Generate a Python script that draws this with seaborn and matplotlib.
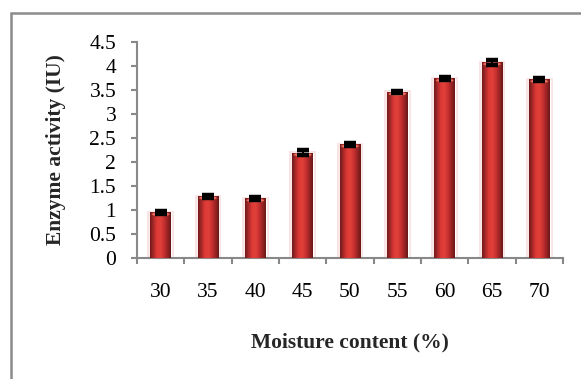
import numpy as np
import pandas as pd
import matplotlib
matplotlib.use("Agg")
import matplotlib.pyplot as plt
from matplotlib.colors import LinearSegmentedColormap
from matplotlib.patches import Rectangle, Ellipse
import seaborn as sns

# Enzyme activity at each moisture level
moisture = ["30", "35", "40", "45", "50", "55", "60", "65", "70"]
activity = [0.95, 1.29, 1.24, 2.19, 2.37, 3.46, 3.74, 4.08, 3.72]
errors = [0.03, 0.03, 0.03, 0.05, 0.03, 0.02, 0.04, 0.05, 0.03]
y_ticks = [0, 0.5, 1, 1.5, 2, 2.5, 3, 3.5, 4, 4.5]
y_tick_labels = ["0", "0.5", "1", "1.5", "2", "2.5", "3", "3.5", "4", "4.5"]

df = pd.DataFrame({"moisture": moisture, "activity": activity})

sns.set_theme(style="white")
plt.rcParams["font.family"] = ["Liberation Serif", "DejaVu Serif"]

W, H, DPI = 581, 379, 100
fig = plt.figure(figsize=(W / DPI, H / DPI), dpi=DPI)
ax = fig.add_axes([137 / W, 1 - 258 / H, 426 / W, 216 / H])

BAR_W = 0.44
sns.barplot(data=df, x="moisture", y="activity", color="#c0302e",
            width=BAR_W, errorbar=None, ax=ax, zorder=2)

# cylinder-like shading for each bar
shade = LinearSegmentedColormap.from_list(
    "cyl", ["#6e1b1b", "#a82828", "#df3a38", "#e04038", "#c83030", "#9a2424", "#661818"])
grad = np.linspace(0, 1, 256).reshape(1, -1)
for patch in ax.patches:
    x0, y0 = patch.get_x(), patch.get_y()
    w, h = patch.get_width(), patch.get_height()
    # soft pink halo around the bar
    ax.add_patch(Rectangle((x0 - 0.06, 0), w + 0.12, h + 0.03, color="#f8e4e4",
                           zorder=1, lw=0))
    im = ax.imshow(grad, cmap=shade, aspect="auto",
                   extent=(x0, x0 + w, y0, y0 + h), zorder=3)
    im.set_clip_path(patch)
    ax.add_patch(Ellipse((x0 + w / 2, y0 + h - 0.04), w * 0.85, 0.08,
                         color="#e8705e", lw=0, zorder=4))

ax.errorbar(np.arange(len(moisture)), activity, yerr=errors, fmt="none",
            ecolor="black", elinewidth=1.4, capsize=4.5, capthick=3.2, zorder=5)

ax.set_xlim(-0.5, len(moisture) - 0.5)
ax.set_ylim(0, 4.5)
ax.set_yticks(y_ticks)
ax.set_yticklabels(y_tick_labels)

# category boundaries carry the tick marks, centres carry the labels
ax.set_xticks(np.arange(-0.5, len(moisture), 1))
ax.set_xticklabels([""] * (len(moisture) + 1))
ax.set_xticks(np.arange(len(moisture)), minor=True)
ax.set_xticklabels(moisture, minor=True)

gray = "#888888"
for side in ["top", "right"]:
    ax.spines[side].set_visible(False)
for side in ["left", "bottom"]:
    ax.spines[side].set_color(gray)
    ax.spines[side].set_linewidth(1.5)

FS = 15.5
ax.tick_params(axis="x", which="major", length=4, width=1.5, color=gray,
               direction="out", bottom=True)
ax.tick_params(axis="x", which="minor", length=0, pad=18, labelsize=FS,
               labelcolor="black", bottom=True)
ax.tick_params(axis="y", length=4, width=1.5, color=gray, direction="out",
               pad=11, labelsize=FS, labelcolor="black", left=True)

ax.set_xlabel("Moisture content (%)", fontsize=FS, fontweight="bold")
ax.set_ylabel("Enzyme activity (IU)", fontsize=FS, fontweight="bold")
ax.xaxis.set_label_coords(0.5, -0.343)
ax.yaxis.set_label_coords(-0.166, 0.5)

# chart-area frame
fig.patches.append(Rectangle((11 / W, -0.05), 1.2, 1.05 - 13 / H,
                             transform=fig.transFigure, fill=False,
                             edgecolor="#8c8c8c", lw=1.8))

fig.savefig("out.png", dpi=DPI)
